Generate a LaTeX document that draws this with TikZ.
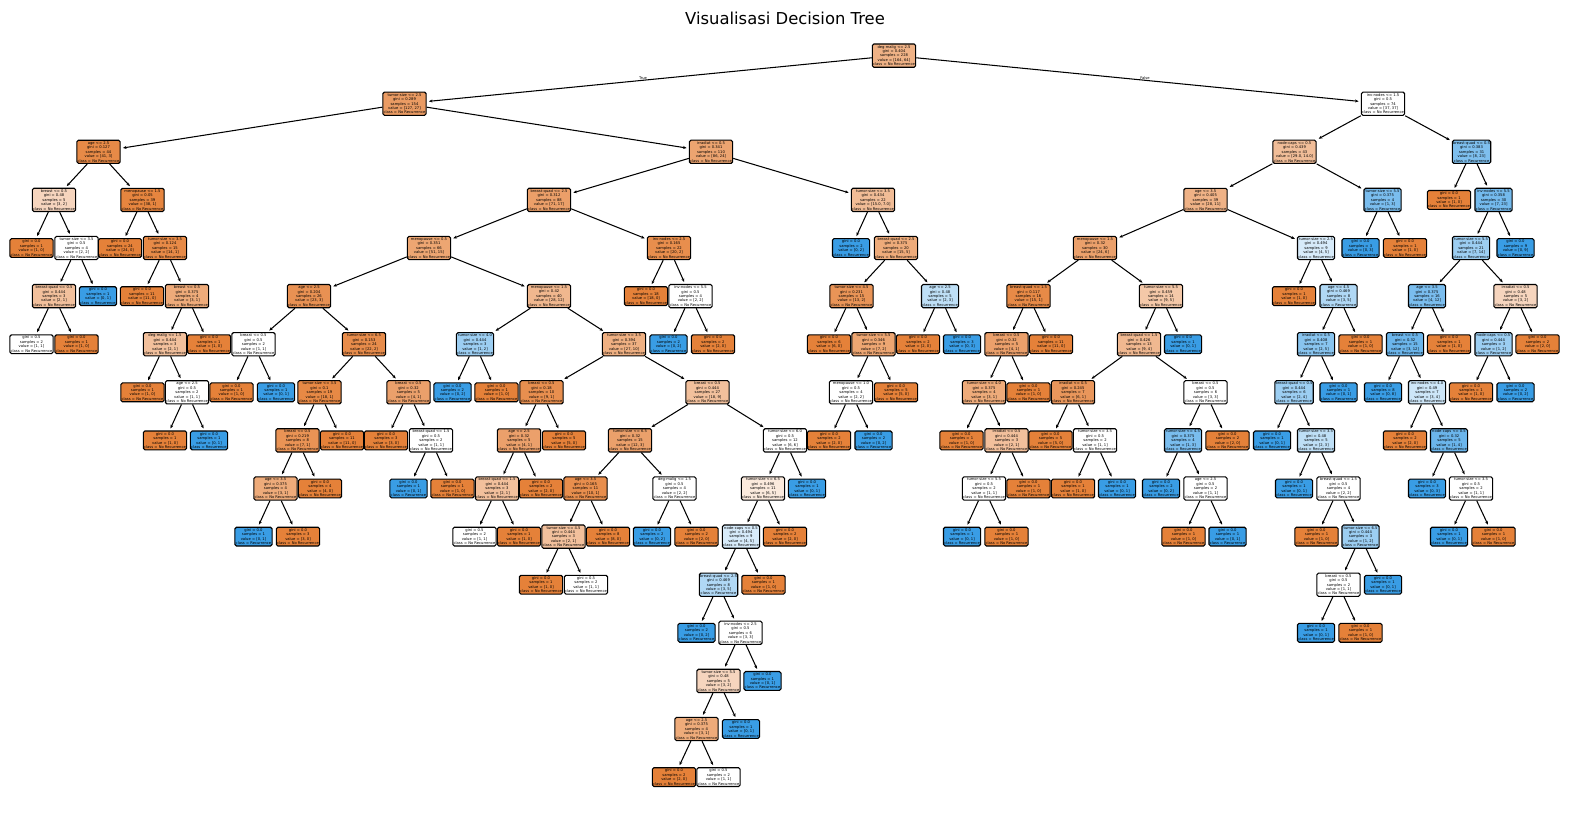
\documentclass[tikz,border=0pt]{standalone}
\usepackage{fontspec}
\setmainfont{DejaVu Sans}
\usetikzlibrary{arrows.meta}
\definecolor{cO}{RGB}{229,129,57}
\definecolor{cB}{RGB}{57,157,229}
\tikzset{
  tn/.style={draw=black, line width=1.1pt, rounded corners=1.6pt, align=center, inner xsep=0.8pt, inner ysep=1.3pt, font=\fontsize{3.7}{4.45}\selectfont},
  edge/.style={-{Stealth[length=3.6pt,width=3pt]}, line width=1.05pt, shorten >=2.2pt},
  lbl/.style={font=\fontsize{3.7}{4.45}\selectfont, inner sep=0pt}
}
\newcommand{\SetFill}[2]{%
  \pgfmathsetmacro{\tmpmin}{min(#1,#2)}%
  \pgfmathsetmacro{\tmpmax}{max(#1,#2)}%
  \pgfmathtruncatemacro{\alp}{round(100*(1-\tmpmin/\tmpmax))}%
  \pgfmathtruncatemacro{\smp}{#1+#2}%
  \pgfmathtruncatemacro{\isb}{#1<#2}%
  \ifnum\isb=1 \colorlet{nf}{cB!\alp!white}\def\cls{Recurrence}%
  \else \colorlet{nf}{cO!\alp!white}\def\cls{No Recurrence}\fi}
\newcommand{\TreeD}[8]{\SetFill{#7}{#8}%
  \node[tn, fill=nf] (#1) at (#3,{55.6+48.1*#4}) {#5\\gini = #6\\samples = \smp\\value = [#7, #8]\\class = \cls};%
  \draw[edge] (#2) -- (#1);}
\newcommand{\TreeL}[7]{\SetFill{#6}{#7}%
  \node[tn, fill=nf] (#1) at (#3,{55.6+48.1*#4}) {gini = #5\\samples = \smp\\value = [#6, #7]\\class = \cls};%
  \draw[edge] (#2) -- (#1);}
\begin{document}
\begin{tikzpicture}[x=1pt,y=-1pt]
\path[fill=white,use as bounding box] (0,0) rectangle (1570,812);
\node[font=\fontsize{16.4}{19}\selectfont] (title) at (785,18) {Visualisasi Decision Tree};
\SetFill{164}{64}
\node[tn, fill=nf] (n) at (894,55.6) {deg-malig <= 2.5\\gini = 0.404\\samples = \smp\\value = [164, 64]\\class = \cls};
\node[lbl] (tlab) at (643,78) {True};
\node[lbl] (flab) at (1145,78) {False};
% L1
\TreeD{n0}{n}{404.5}{1}{tumor-size <= 2.5}{0.289}{127}{27}
\TreeD{n1}{n}{1383}{1}{inv-nodes <= 1.5}{0.5}{37}{37}
% L2
\TreeD{n00}{n0}{98.5}{2}{age <= 2.5}{0.127}{41}{3}
\TreeD{n01}{n0}{711}{2}{irradiat <= 0.5}{0.341}{86}{24}
\TreeD{n10}{n1}{1294.5}{2}{node-caps <= 0.5}{0.439}{29.0}{14.0}
\TreeD{n11}{n1}{1471.5}{2}{breast-quad <= 0.5}{0.383}{8}{23}
% L3
\TreeD{n000}{n00}{54}{3}{breast <= 0.5}{0.48}{3}{2}
\TreeD{n001}{n00}{142.5}{3}{menopause <= 1.5}{0.05}{38}{1}
\TreeD{n010}{n01}{549}{3}{breast-quad <= 2.5}{0.312}{71}{17}
\TreeD{n011}{n01}{873}{3}{tumor-size <= 3.5}{0.434}{15.0}{7.0}
\TreeD{n100}{n10}{1205.5}{3}{age <= 3.5}{0.405}{28}{11}
\TreeD{n101}{n10}{1382.5}{3}{tumor-size <= 5.5}{0.375}{1}{3}
\TreeL{n110}{n11}{1449}{3}{0.0}{1}{0}
\TreeD{n111}{n11}{1493.5}{3}{inv-nodes <= 5.5}{0.358}{7}{23}
% L4
\TreeL{n0000}{n000}{31.5}{4}{0.0}{1}{0}
\TreeD{n0001}{n000}{76.5}{4}{tumor-size <= 3.5}{0.5}{2}{2}
\TreeL{n0010}{n001}{120}{4}{0.0}{24}{0}
\TreeD{n0011}{n001}{165}{4}{tumor-size <= 3.5}{0.124}{14}{1}
\TreeD{n0100}{n010}{429}{4}{menopause <= 0.5}{0.351}{51}{15}
\TreeD{n0101}{n010}{669}{4}{inv-nodes <= 2.5}{0.165}{20}{2}
\TreeL{n0110}{n011}{851}{4}{0.0}{0}{2}
\TreeD{n0111}{n011}{896}{4}{breast-quad <= 2.5}{0.375}{15}{5}
\TreeD{n1000}{n100}{1095}{4}{menopause <= 1.5}{0.32}{24}{6}
\TreeD{n1001}{n100}{1316}{4}{tumor-size <= 2.5}{0.494}{4}{5}
\TreeL{n1010}{n101}{1360.5}{4}{0.0}{0}{3}
\TreeL{n1011}{n101}{1405}{4}{0.0}{1}{0}
\TreeD{n1110}{n111}{1471}{4}{tumor-size <= 5.5}{0.444}{7}{14}
\TreeL{n1111}{n111}{1515.5}{4}{0.0}{0}{9}
% L5
\TreeD{n00010}{n0001}{54}{5}{breast-quad <= 0.5}{0.444}{2}{1}
\TreeL{n00011}{n0001}{98}{5}{0.0}{0}{1}
\TreeL{n00110}{n0011}{142}{5}{0.0}{11}{0}
\TreeD{n00111}{n0011}{187}{5}{breast <= 0.5}{0.375}{3}{1}
\TreeD{n01000}{n0100}{309}{5}{age <= 2.5}{0.204}{23}{3}
\TreeD{n01001}{n0100}{549}{5}{menopause <= 1.5}{0.42}{28}{12}
\TreeL{n01010}{n0101}{646}{5}{0.0}{18}{0}
\TreeD{n01011}{n0101}{690.5}{5}{inv-nodes <= 5.5}{0.5}{2}{2}
\TreeD{n01110}{n0111}{851.5}{5}{tumor-size <= 4.5}{0.231}{13}{2}
\TreeD{n01111}{n0111}{940}{5}{age <= 2.5}{0.48}{2}{3}
\TreeD{n10000}{n1000}{1028.5}{5}{breast-quad <= 1.5}{0.117}{15}{1}
\TreeD{n10001}{n1000}{1161}{5}{tumor-size <= 5.5}{0.459}{9}{5}
\TreeL{n10010}{n1001}{1294}{5}{0.0}{1}{0}
\TreeD{n10011}{n1001}{1338.5}{5}{age <= 4.5}{0.469}{3}{5}
\TreeD{n11100}{n1110}{1427}{5}{age <= 3.5}{0.375}{4}{12}
\TreeD{n11101}{n1110}{1515.5}{5}{irradiat <= 0.5}{0.48}{3}{2}
% L6
\TreeL{n000100}{n00010}{31.5}{6}{0.5}{1}{1}
\TreeL{n000101}{n00010}{76.5}{6}{0.0}{1}{0}
\TreeD{n001110}{n00111}{165}{6}{deg-malig <= 1.5}{0.444}{2}{1}
\TreeL{n001111}{n00111}{209}{6}{0.0}{1}{0}
\TreeD{n010000}{n01000}{253.5}{6}{breast <= 0.5}{0.5}{1}{1}
\TreeD{n010001}{n01000}{364}{6}{tumor-size <= 6.5}{0.153}{22}{2}
\TreeD{n010010}{n01001}{475}{6}{tumor-size <= 4.0}{0.444}{1}{2}
\TreeD{n010011}{n01001}{624}{6}{tumor-size <= 3.5}{0.394}{27}{10}
\TreeL{n010110}{n01011}{668.5}{6}{0.0}{0}{2}
\TreeL{n010111}{n01011}{713}{6}{0.0}{2}{0}
\TreeL{n011100}{n01110}{829}{6}{0.0}{6}{0}
\TreeD{n011101}{n01110}{873.5}{6}{tumor-size <= 5.5}{0.346}{7}{2}
\TreeL{n011110}{n01111}{918}{6}{0.0}{2}{0}
\TreeL{n011111}{n01111}{962}{6}{0.0}{0}{3}
\TreeD{n100000}{n10000}{1006.5}{6}{breast <= 0.5}{0.32}{4}{1}
\TreeL{n100001}{n10000}{1051}{6}{0.0}{11}{0}
\TreeD{n100010}{n10001}{1139}{6}{breast-quad <= 1.5}{0.426}{9}{4}
\TreeL{n100011}{n10001}{1183}{6}{0.0}{0}{1}
\TreeD{n100110}{n10011}{1316}{6}{irradiat <= 0.5}{0.408}{2}{5}
\TreeL{n100111}{n10011}{1360.5}{6}{0.0}{1}{0}
\TreeD{n111000}{n11100}{1405}{6}{breast <= 0.5}{0.32}{3}{12}
\TreeL{n111001}{n11100}{1449}{6}{0.0}{1}{0}
\TreeD{n111010}{n11101}{1493.5}{6}{node-caps <= 0.5}{0.444}{1}{2}
\TreeL{n111011}{n11101}{1537.5}{6}{0.0}{2}{0}
% L7
\TreeL{n0011100}{n001110}{142.5}{7}{0.0}{1}{0}
\TreeD{n0011101}{n001110}{187}{7}{age <= 2.5}{0.5}{1}{1}
\TreeL{n0100000}{n010000}{231.5}{7}{0.0}{1}{0}
\TreeL{n0100001}{n010000}{276}{7}{0.0}{0}{1}
\TreeD{n0100010}{n010001}{319.5}{7}{tumor-size <= 3.5}{0.1}{18}{1}
\TreeD{n0100011}{n010001}{408.5}{7}{breast <= 0.5}{0.32}{4}{1}
\TreeL{n0100100}{n010010}{452.5}{7}{0.0}{0}{2}
\TreeL{n0100101}{n010010}{496.5}{7}{0.0}{1}{0}
\TreeD{n0100110}{n010011}{541.5}{7}{breast <= 0.5}{0.18}{9}{1}
\TreeD{n0100111}{n010011}{707.5}{7}{breast <= 0.5}{0.444}{18}{9}
\TreeD{n0111010}{n011101}{851}{7}{menopause <= 1.0}{0.5}{2}{2}
\TreeL{n0111011}{n011101}{896}{7}{0.0}{5}{0}
\TreeD{n1000000}{n100000}{984}{7}{tumor-size <= 4.0}{0.375}{3}{1}
\TreeL{n1000001}{n100000}{1028.5}{7}{0.0}{1}{0}
\TreeD{n1000100}{n100010}{1073}{7}{irradiat <= 0.5}{0.245}{6}{1}
\TreeD{n1000101}{n100010}{1205.5}{7}{breast <= 0.5}{0.5}{3}{3}
\TreeD{n1001100}{n100110}{1294}{7}{breast-quad <= 0.5}{0.444}{2}{4}
\TreeL{n1001101}{n100110}{1338.5}{7}{0.0}{0}{1}
\TreeL{n1110000}{n111000}{1383}{7}{0.0}{0}{8}
\TreeD{n1110001}{n111000}{1427}{7}{inv-nodes <= 4.0}{0.49}{3}{4}
\TreeL{n1110100}{n111010}{1471}{7}{0.0}{1}{0}
\TreeL{n1110101}{n111010}{1515.5}{7}{0.0}{0}{2}
% L8
\TreeL{n00111010}{n0011101}{165}{8}{0.0}{1}{0}
\TreeL{n00111011}{n0011101}{209}{8}{0.0}{0}{1}
\TreeD{n01000100}{n0100010}{297.5}{8}{breast <= 0.5}{0.219}{7}{1}
\TreeL{n01000101}{n0100010}{342}{8}{0.0}{11}{0}
\TreeL{n01000110}{n0100011}{386}{8}{0.0}{3}{0}
\TreeD{n01000111}{n0100011}{431}{8}{breast-quad <= 1.5}{0.5}{1}{1}
\TreeD{n01001100}{n0100110}{519}{8}{age <= 2.5}{0.32}{4}{1}
\TreeL{n01001101}{n0100110}{564}{8}{0.0}{5}{0}
\TreeD{n01001110}{n0100111}{630}{8}{tumor-size <= 6.5}{0.32}{12}{3}
\TreeD{n01001111}{n0100111}{785}{8}{tumor-size <= 6.0}{0.5}{6}{6}
\TreeL{n01110100}{n0111010}{829}{8}{0.0}{2}{0}
\TreeL{n01110101}{n0111010}{873.5}{8}{0.0}{0}{2}
\TreeL{n10000000}{n1000000}{961.5}{8}{0.0}{1}{0}
\TreeD{n10000001}{n1000000}{1006.5}{8}{irradiat <= 0.5}{0.444}{2}{1}
\TreeL{n10001000}{n1000100}{1050.5}{8}{0.0}{5}{0}
\TreeD{n10001001}{n1000100}{1095}{8}{tumor-size <= 3.5}{0.5}{1}{1}
\TreeD{n10001010}{n1000101}{1183}{8}{tumor-size <= 4.5}{0.375}{1}{3}
\TreeL{n10001011}{n1000101}{1227.5}{8}{0.0}{2}{0}
\TreeL{n10011000}{n1001100}{1272}{8}{0.0}{0}{1}
\TreeD{n10011001}{n1001100}{1316}{8}{tumor-size <= 3.5}{0.48}{2}{3}
\TreeL{n11100010}{n1110001}{1405}{8}{0.0}{2}{0}
\TreeD{n11100011}{n1110001}{1449}{8}{node-caps <= 0.5}{0.32}{1}{4}
% L9
\TreeD{n010001000}{n01000100}{275.5}{9}{age <= 3.5}{0.375}{3}{1}
\TreeL{n010001001}{n01000100}{320}{9}{0.0}{4}{0}
\TreeL{n010001110}{n01000111}{408.5}{9}{0.0}{0}{1}
\TreeL{n010001111}{n01000111}{452.5}{9}{0.0}{1}{0}
\TreeD{n010011000}{n01001100}{497}{9}{breast-quad <= 1.5}{0.444}{2}{1}
\TreeL{n010011001}{n01001100}{541}{9}{0.0}{2}{0}
\TreeD{n010011100}{n01001110}{585.5}{9}{age <= 3.5}{0.165}{10}{1}
\TreeD{n010011101}{n01001110}{674.5}{9}{deg-malig <= 1.5}{0.5}{2}{2}
\TreeD{n010011110}{n01001111}{763}{9}{tumor-size <= 6.5}{0.496}{6}{5}
\TreeL{n010011111}{n01001111}{807}{9}{0.0}{0}{1}
\TreeD{n100000010}{n10000001}{984}{9}{tumor-size <= 5.5}{0.5}{1}{1}
\TreeL{n100000011}{n10000001}{1028.5}{9}{0.0}{1}{0}
\TreeL{n100010010}{n10001001}{1073}{9}{0.0}{1}{0}
\TreeL{n100010011}{n10001001}{1117}{9}{0.0}{0}{1}
\TreeL{n100010100}{n10001010}{1161}{9}{0.0}{0}{2}
\TreeD{n100010101}{n10001010}{1205.5}{9}{age <= 2.5}{0.5}{1}{1}
\TreeL{n100110010}{n10011001}{1294}{9}{0.0}{0}{1}
\TreeD{n100110011}{n10011001}{1338.5}{9}{breast-quad <= 1.5}{0.5}{2}{2}
\TreeL{n111000110}{n11100011}{1427}{9}{0.0}{0}{3}
\TreeD{n111000111}{n11100011}{1471}{9}{tumor-size <= 3.5}{0.5}{1}{1}
% L10
\TreeL{n0100010000}{n010001000}{253.5}{10}{0.0}{0}{1}
\TreeL{n0100010001}{n010001000}{298}{10}{0.0}{3}{0}
\TreeL{n0100110000}{n010011000}{474.5}{10}{0.5}{1}{1}
\TreeL{n0100110001}{n010011000}{519}{10}{0.0}{1}{0}
\TreeD{n0100111000}{n010011100}{563.5}{10}{tumor-size <= 4.5}{0.444}{2}{1}
\TreeL{n0100111001}{n010011100}{608}{10}{0.0}{8}{0}
\TreeL{n0100111010}{n010011101}{652}{10}{0.0}{0}{2}
\TreeL{n0100111011}{n010011101}{696.5}{10}{0.0}{2}{0}
\TreeD{n0100111100}{n010011110}{741}{10}{node-caps <= 0.5}{0.494}{4}{5}
\TreeL{n0100111101}{n010011110}{785}{10}{0.0}{2}{0}
\TreeL{n1000000100}{n100000010}{962}{10}{0.0}{0}{1}
\TreeL{n1000000101}{n100000010}{1006.5}{10}{0.0}{1}{0}
\TreeL{n1000101010}{n100010101}{1183.5}{10}{0.0}{1}{0}
\TreeL{n1000101011}{n100010101}{1227.5}{10}{0.0}{0}{1}
\TreeL{n1001100110}{n100110011}{1316.5}{10}{0.0}{1}{0}
\TreeD{n1001100111}{n100110011}{1360.5}{10}{tumor-size <= 6.5}{0.444}{1}{2}
\TreeL{n1110001110}{n111000111}{1449}{10}{0.0}{0}{1}
\TreeL{n1110001111}{n111000111}{1493.5}{10}{0.0}{1}{0}
% L11
\TreeL{n01001110000}{n0100111000}{541}{11}{0.0}{1}{0}
\TreeL{n01001110001}{n0100111000}{586}{11}{0.5}{1}{1}
\TreeD{n01001111000}{n0100111100}{718.5}{11}{breast-quad <= 2.5}{0.469}{3}{5}
\TreeL{n01001111001}{n0100111100}{763.5}{11}{0.0}{1}{0}
\TreeD{n10011001110}{n1001100111}{1338.5}{11}{breast <= 0.5}{0.5}{1}{1}
\TreeL{n10011001111}{n1001100111}{1383}{11}{0.0}{0}{1}
% L12
\TreeL{n010011110000}{n01001111000}{696.5}{12}{0.0}{0}{2}
\TreeD{n010011110001}{n01001111000}{740.5}{12}{inv-nodes <= 2.5}{0.5}{3}{3}
\TreeL{n100110011100}{n10011001110}{1316}{12}{0.0}{0}{1}
\TreeL{n100110011101}{n10011001110}{1360.5}{12}{0.0}{1}{0}
% L13
\TreeD{n0100111100010}{n010011110001}{718.5}{13}{tumor-size <= 5.5}{0.48}{3}{2}
\TreeL{n0100111100011}{n010011110001}{762.5}{13}{0.0}{0}{1}
% L14
\TreeD{n01001111000100}{n0100111100010}{696.5}{14}{age <= 2.5}{0.375}{3}{1}
\TreeL{n01001111000101}{n0100111100010}{741}{14}{0.0}{0}{1}
% L15
\TreeL{n010011110001000}{n01001111000100}{674}{15}{0.0}{2}{0}
\TreeL{n010011110001001}{n01001111000100}{718.5}{15}{0.5}{1}{1}
\end{tikzpicture}
\end{document}
